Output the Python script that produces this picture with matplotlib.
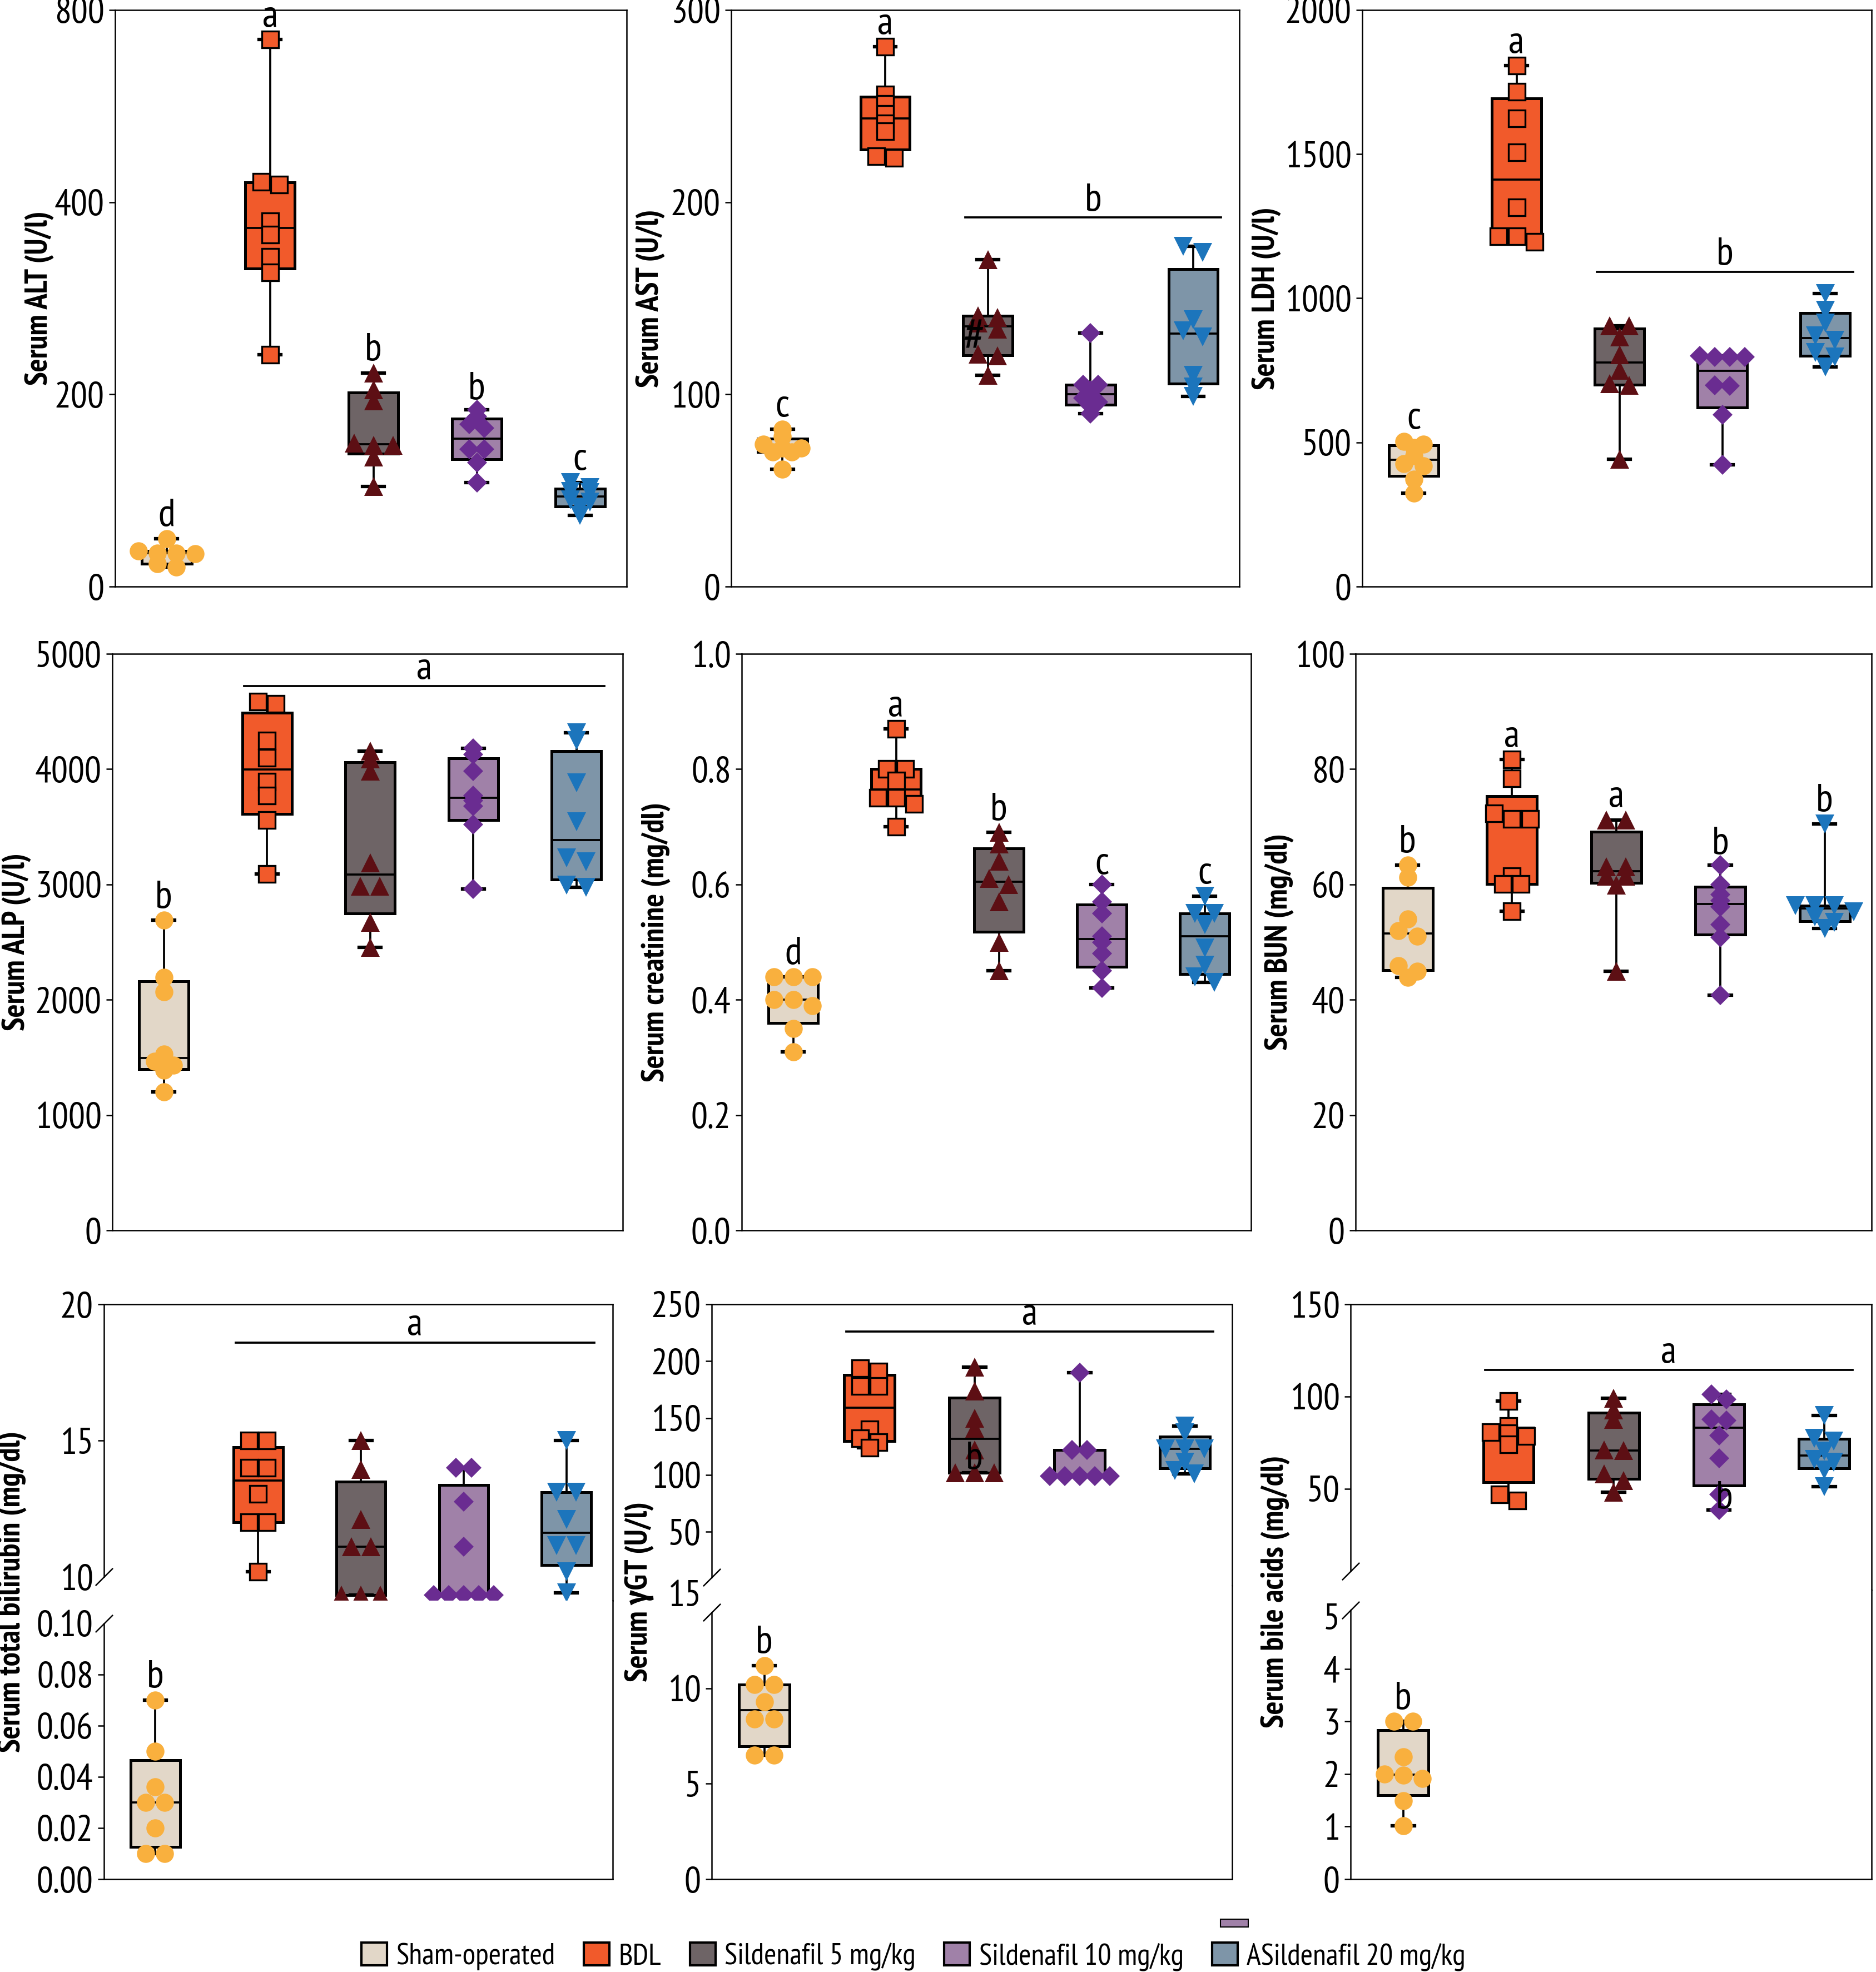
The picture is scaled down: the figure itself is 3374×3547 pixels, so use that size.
import numpy as np
import matplotlib
matplotlib.use('Agg')
import matplotlib.pyplot as plt
import matplotlib.transforms as mtransforms
from matplotlib.patches import Patch, Rectangle

# fonte estreita parecida com a original (cai para DejaVu se nenhuma existir)
plt.rcParams['font.family'] = ['PT Sans Narrow', 'Fira Sans Condensed', 'Roboto Condensed',
                               'Archivo Narrow', 'DejaVu Sans']

# grupos
grupos = ['Sham-operated', 'BDL', 'Sildenafil 5 mg/kg', 'Sildenafil 10 mg/kg', 'ASildenafil 20 mg/kg']
cor_caixa = ['#e2d7c8', '#f15a2b', '#6e6466', '#a081a8', '#7e95a8']
cor_ponto = ['#f9b03e', '#f15a2b', '#5d0f14', '#6a2c91', '#1c75bc']
marcadores = ['o', 's', '^', 'D', 'v']
tam_marc = [7.8, 7.4, 8.0, 6.2, 8.0]

# dados (uma sublista por grupo)
alt = [[50, 37, 35, 35, 34, 24, 20],
       [739, 443, 437, 380, 366, 343, 327, 241],
       [222, 205, 193, 149, 147, 147, 135, 104],
       [184, 177, 169, 165, 143, 143, 129, 108],
       [108, 103, 99, 98, 90, 88, 82, 74]]
ast = [[82, 78, 74, 72, 72, 70, 70, 61],
       [281, 256, 251, 246, 241, 237, 224, 223],
       [170, 141, 140, 137, 134, 121, 120, 110],
       [132, 105, 105, 102, 98, 96, 94, 90],
       [177, 174, 139, 133, 130, 110, 104, 99]]
ldh = [[504, 493, 482, 453, 426, 419, 372, 324],
       [1807, 1716, 1624, 1507, 1315, 1215, 1215, 1196],
       [905, 905, 865, 804, 750, 703, 699, 442],
       [801, 797, 797, 797, 699, 696, 595, 423],
       [1017, 959, 915, 869, 855, 811, 797, 761]]
alp = [[2690, 2192, 2070, 1529, 1465, 1431, 1387, 1201],
       [4584, 4567, 4246, 4100, 3890, 3772, 3559, 3092],
       [4154, 4087, 3982, 3187, 2984, 2984, 2672, 2453],
       [4178, 4127, 3985, 3772, 3728, 3681, 3518, 2960],
       [4313, 4250, 3880, 3542, 3231, 3197, 2994, 2977]]
creat = [[0.44, 0.44, 0.44, 0.40, 0.40, 0.39, 0.35, 0.31],
         [0.87, 0.80, 0.80, 0.78, 0.75, 0.75, 0.74, 0.70],
         [0.69, 0.67, 0.64, 0.61, 0.60, 0.57, 0.50, 0.45],
         [0.60, 0.57, 0.55, 0.51, 0.50, 0.48, 0.45, 0.42],
         [0.58, 0.55, 0.55, 0.53, 0.49, 0.46, 0.44, 0.43]]
bun = [[63.4, 61.2, 54.0, 52.0, 51.0, 45.9, 44.9, 43.9],
       [81.7, 78.4, 72.3, 71.4, 71.4, 61.4, 60.1, 60.1, 55.4],
       [71.2, 71.2, 63.1, 63.1, 61.4, 61.4, 59.9, 44.9],
       [63.4, 60.0, 58.2, 57.2, 56.1, 53.0, 50.8, 40.8],
       [70.5, 56.3, 56.3, 56.3, 55.3, 54.4, 53.4, 52.4]]
bili = [[0.07, 0.05, 0.036, 0.03, 0.03, 0.02, 0.01, 0.01],
        [15.0, 15.0, 14.0, 14.0, 13.05, 12.0, 12.0, 10.2],
        [15.0, 13.95, 12.1, 11.1, 11.1, 9.34, 9.34, 9.34],
        [14.0, 14.0, 12.75, 11.1, 9.34, 9.34, 9.34, 9.34, 9.34],
        [15.0, 13.1, 13.1, 12.1, 11.15, 11.15, 10.2, 9.42]]
ggt = [[11.2, 10.2, 10.2, 9.3, 8.4, 8.4, 6.5, 6.5],
       [194, 191, 178, 178, 140, 132, 129, 124],
       [195, 174, 150, 141, 122, 102, 102, 102],
       [190, 122, 122, 99, 99, 99, 99, 99],
       [143, 137, 123, 123, 123, 111, 104, 101]]
bile = [[3.0, 3.0, 2.33, 2.0, 1.98, 1.91, 1.49, 1.02],
        [97.5, 84, 80.5, 80, 78.4, 74, 46.7, 43.6],
        [98.9, 92.6, 87.5, 71.0, 70.6, 57.9, 54.5, 48.2],
        [101, 98.5, 87.5, 86.9, 78.9, 66.4, 46.7, 38.3],
        [89.6, 77.4, 75.7, 70.4, 65.7, 64.3, 60.0, 51.0]]

W, H = 3374, 3547
fig = plt.figure(figsize=(W / 300, H / 300), dpi=300)

TAM_TICK = 16
TAM_LETRA = 17
TAM_ROT = 13.5


def ret(l, r, t, b):
    return [l / W, 1 - b / H, (r - l) / W, (b - t) / H]


def estilo_eixo(ax):
    for s in ax.spines.values():
        s.set_linewidth(0.6)
    ax.tick_params(axis='y', direction='out', length=2.6, width=0.6, pad=2.0, labelsize=TAM_TICK)


def caixa(ax, i, v):
    q1, med, q3 = np.percentile(v, [25, 50, 75], method='weibull')
    st = [{'med': med, 'q1': q1, 'q3': q3, 'whislo': min(v), 'whishi': max(v), 'fliers': []}]
    ax.bxp(st, positions=[i + 1], widths=0.48, capwidths=0.21, patch_artist=True, showfliers=False,
           manage_ticks=False,
           boxprops=dict(facecolor=cor_caixa[i], edgecolor='black', linewidth=1.2),
           whiskerprops=dict(color='black', linewidth=0.9),
           capprops=dict(color='black', linewidth=1.5),
           medianprops=dict(color='black', linewidth=0.9), zorder=2)


def enxame(ax, x0, v, ms):
    # espalha na horizontal só os pontos quase na mesma altura
    d = ms * fig.dpi / 72.0
    pts = ax.transData.transform(np.column_stack([np.full(len(v), x0), v]))
    ys = pts[:, 1]
    ordem = np.argsort(-ys, kind='stable')
    desl = np.zeros(len(v))
    i = 0
    while i < len(ordem):
        j = i
        while j + 1 < len(ordem) and ys[ordem[i]] - ys[ordem[j + 1]] < 0.35 * d:
            j += 1
        k = j - i + 1
        for n, idx in enumerate(ordem[i:j + 1]):
            desl[idx] = (n - (k - 1) / 2) * d * 1.05
        i = j + 1
    px = ax.transData.transform((1, 0))[0] - ax.transData.transform((0, 0))[0]
    return x0 + desl / px


def pontos(ax, i, v):
    xs = enxame(ax, i + 1, v, tam_marc[i])
    borda = 'black' if i == 1 else 'none'
    ax.plot(xs, v, ls='none', marker=marcadores[i], ms=tam_marc[i], mfc=cor_ponto[i],
            mec=borda, mew=0.8 if i == 1 else 0, zorder=3)


def letra(ax, i, v, txt):
    ax.annotate(txt, xy=(i + 1, max(v)), xytext=(0, 0.5 * tam_marc[i] + 1.5), textcoords='offset points',
                ha='center', va='baseline', fontsize=TAM_LETRA, annotation_clip=False)


def barra(ax, g0, g1, y, txt):
    x0, x1 = g0 - 0.22, g1 + 0.27
    ax.plot([x0, x1], [y, y], color='black', lw=0.9, zorder=2)
    ax.annotate(txt, xy=((x0 + x1) / 2, y), xytext=(0, 3.0), textcoords='offset points',
                ha='center', va='baseline', fontsize=TAM_LETRA)


def rotulo_y(ax, txt, off, larg):
    ax.set_ylabel(txt, fontsize=TAM_ROT, fontweight='bold')
    ax.yaxis.set_label_coords(-off / larg, 0.5)
    ax.yaxis.label.set_va('center')


def alt_fwd(v):
    v = np.asarray(v, float)
    return np.where(v <= 400, v, 400 + (v - 400) / 2)


def alt_inv(u):
    u = np.asarray(u, float)
    return np.where(u <= 400, u, 400 + (u - 400) * 2)


# painéis simples: (dados, quadro, ylim, ticks, rótulos, ylabel, deslocamento do rótulo, letras, barra)
simples = [
    (alt, (207, 1127, 18, 1055), (0, 800), [0, 200, 400, 800], None, 'Serum ALT (U/l)', 136,
     ['d', 'a', 'b', 'b', 'c'], None),
    (ast, (1315, 2229, 18, 1055), (0, 300), [0, 100, 200, 300], None, 'Serum AST (U/l)', 145,
     ['c', 'a', None, None, None], (3, 5, 192, 'b')),
    (ldh, (2450, 3366, 18, 1055), (0, 2000), [0, 500, 1000, 1500, 2000], None, 'Serum LDH (U/l)', 172,
     ['c', 'a', None, None, None], (3, 5, 1092, 'b')),
    (alp, (202, 1120, 1176, 2213), (0, 5000), [0, 1000, 2000, 3000, 4000, 5000], None, 'Serum ALP (U/l)', 172,
     ['b', None, None, None, None], (2, 5, 4720, 'a')),
    (creat, (1334, 2250, 1176, 2213), (0, 1.0), [0, 0.2, 0.4, 0.6, 0.8, 1.0],
     ['0.0', '0.2', '0.4', '0.6', '0.8', '1.0'], 'Serum creatinine (mg/dl)', 154,
     ['d', 'a', 'b', 'c', 'c'], None),
    (bun, (2438, 3366, 1176, 2213), (0, 100), [0, 20, 40, 60, 80, 100], None, 'Serum BUN (mg/dl)', 137,
     ['b', 'a', 'a', 'b', 'b'], None),
]

eixos = []
for k, (dados, q, lim, tk, tl, yl, off, letras, bar) in enumerate(simples):
    ax = fig.add_axes(ret(*q))
    estilo_eixo(ax)
    if k == 0:
        ax.set_yscale('function', functions=(alt_fwd, alt_inv))
    ax.set_ylim(*lim)
    ax.set_yticks(tk)
    ax.set_yticklabels(tl if tl else [str(t) for t in tk])
    ax.yaxis.set_minor_locator(matplotlib.ticker.NullLocator())
    ax.set_xlim(0.5, 5.45)
    ax.set_xticks([])
    for i, v in enumerate(dados):
        caixa(ax, i, v)
    for i, v in enumerate(dados):
        pontos(ax, i, v)
        if letras[i]:
            letra(ax, i, v, letras[i])
    if bar:
        barra(ax, bar[0], bar[1], bar[2], bar[3])
    rotulo_y(ax, yl, off, q[1] - q[0])
    eixos.append(ax)

# marca solta que aparece na figura original
eixos[1].text(2.87, 129, '#', fontsize=21, ha='center', va='center', zorder=4)

# painéis com eixo quebrado
quebrados = [
    (bili, (187, 1102, 2346, 3380), 0.515, (9.14, 20), 10, [10, 15, 20], ['10', '15', '20'],
     (0, 0.109), 0.10, [0, 0.02, 0.04, 0.06, 0.08, 0.10], ['0.00', '0.02', '0.04', '0.06', '0.08', '0.10'],
     'Serum total bilirubin (mg/dl)', 165, 18.6, True),
    (ggt, (1280, 2216, 2346, 3380), 0.489, (2.9, 250), 10, [50, 100, 150, 200, 250], None,
     (0, 15.4), 14, [0, 5, 10, 15], None, 'Serum γGT (U/l)', 130, 226, False),
    (bile, (2429, 3366, 2346, 3380), 0.497, (-5, 150), 5.3, [50, 100, 150], None,
     (0, 5.5), 5.12, [0, 1, 2, 3, 4, 5], None, 'Serum bile acids (mg/dl)', 135, 114.4, False),
]

eixos_q = []
for dados, q, frac, lim_s, esp_s, tk_s, tl_s, lim_i, esp_i, tk_i, tl_i, yl, off, ybar, esconder in quebrados:
    l, r, t, b = q
    corte = t + frac * (b - t)
    axs = fig.add_axes(ret(l, r, t, corte))
    axi = fig.add_axes(ret(l, r, corte, b))
    for ax in (axs, axi):
        estilo_eixo(ax)
        ax.set_xlim(0.5, 5.45)
        ax.set_xticks([])
    axs.spines['bottom'].set_visible(False)
    axi.spines['top'].set_visible(False)
    axs.set_ylim(*lim_s)
    axi.set_ylim(*lim_i)
    axs.set_yticks(tk_s)
    axs.set_yticklabels(tl_s if tl_s else [str(x) for x in tk_s])
    axi.set_yticks(tk_i)
    axi.set_yticklabels(tl_i if tl_i else [str(x) for x in tk_i])
    axs.spines['left'].set_bounds(esp_s, lim_s[1])
    axi.spines['left'].set_bounds(lim_i[0], esp_i)
    if esconder:
        axs.yaxis.get_major_ticks()[0].tick1line.set_visible(False)
    axi.yaxis.get_major_ticks()[-1].tick1line.set_visible(False)
    # barrinhas da quebra
    for ax, yv in ((axs, esp_s), (axi, esp_i)):
        tr = mtransforms.blended_transform_factory(ax.transAxes, ax.transData)
        ax.plot([0], [yv], ls='none', marker=[(-1, -1), (1, 1)], ms=7.5, mec='black', mew=0.6,
                transform=tr, clip_on=False, zorder=5)
    caixa(axi, 0, dados[0])
    for i in range(1, 5):
        caixa(axs, i, dados[i])
    pontos(axi, 0, dados[0])
    letra(axi, 0, dados[0], 'b')
    for i in range(1, 5):
        pontos(axs, i, dados[i])
    barra(axs, 2, 5, ybar, 'a')
    fig.text((l - off) / W, 1 - (t + b) / 2 / H, yl, rotation=90, ha='center', va='center',
             fontsize=TAM_ROT, fontweight='bold')
    eixos_q.append(axs)

eixos_q[1].text(3.0, 114, 'b', fontsize=TAM_LETRA, ha='center', va='center', zorder=4)
eixos_q[2].text(4.05, 44.6, 'b', fontsize=TAM_LETRA, ha='center', va='center', zorder=4)

# legenda
alcas = [Patch(facecolor=c, edgecolor='black', linewidth=1.0) for c in cor_caixa]
fig.legend(alcas, grupos, loc='lower center', bbox_to_anchor=(0.487, -0.007), ncol=5, frameon=False,
           fontsize=13, handlelength=0.85, handleheight=0.8, columnspacing=0.95, handletextpad=0.3,
           borderaxespad=0.1)

# pedacinho roxo solto acima da legenda na figura original
fig.add_artist(Rectangle((2195 / W, 1 - 3466 / H), 50 / W, 14 / H, transform=fig.transFigure,
                         facecolor=cor_caixa[3], edgecolor='black', linewidth=0.5))

fig.savefig('out.png', dpi=300)
